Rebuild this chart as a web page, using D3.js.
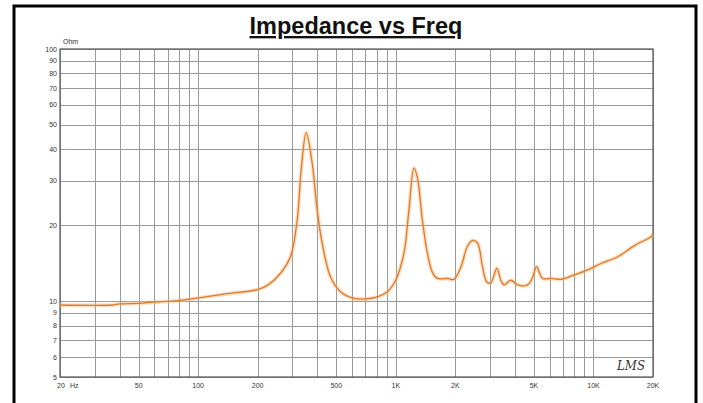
<!DOCTYPE html>
<html><head><meta charset="utf-8">
<script src="https://cdn.jsdelivr.net/npm/d3@7"></script>
<style>html,body{margin:0;padding:0;background:#fff;}svg{display:block;}</style>
</head><body>
<script>
const freqs = [20,36.7,40,50,59.2,80,101,140.7,199,226,261,293,317,332,352,377,400,424,467,525,613,703,806,906,998,1099,1165,1235,1285,1362,1444,1531,1623,1824,1970,2130,2303,2442,2589,2745,2885,3023,3243,3397,3530,3819,4129,4641,4920,5153,5527,6089,6844,7992,9343,10914,13260,16090,19560,20000];
const ohms  = [9.65,9.65,9.75,9.8,9.9,10.05,10.3,10.7,11.1,11.6,12.9,15.0,21,33.1,46.6,35.5,23,17,12.5,10.9,10.26,10.2,10.4,10.9,12.1,15.5,23,33.7,31,21,15.5,13,12.3,12.3,12.2,13.6,16.5,17.4,17,13.7,11.9,11.8,13.5,12.1,11.6,12.1,11.6,11.6,12.4,13.7,12.3,12.3,12.2,12.7,13.3,14.1,15.0,16.6,18.0,18.4];
const yTicks = [5,6,7,8,9,10,20,30,40,50,60,70,80,90,100];
const yLabels = ["5","6","7","8","9","10","20","30","40","50","60","70","80","90","100"];
const xGrid = [20,30,40,50,60,70,80,90,100,200,300,400,500,600,700,800,900,1000,2000,3000,4000,5000,6000,7000,8000,9000,10000,20000];
const xLabelVals = [50,100,200,500,1000,2000,5000,10000,20000];
const xLabels = ["50","100","200","500","1K","2K","5K","10K","20K"];
const title = "Impedance vs Freq";

const W=703,H=403;
const L=60,R=653,T=49,B=377;
const svg=d3.select("body").append("svg").attr("width",W).attr("height",H);
svg.append("rect").attr("width",W).attr("height",H).attr("fill","#fff");

const x=d3.scaleLog().domain([20,20000]).range([L,R]);
const y=d3.scaleLog().domain([5,100]).range([B,T]);

// outer frame
svg.append("path").attr("d",`M14,${H+5} L14,6 L696,6 L696,${H+5}`).attr("fill","none").attr("stroke","#000").attr("stroke-width",3);

// title
svg.append("text").attr("x",356).attr("y",34).attr("text-anchor","middle")
  .attr("font-family","Liberation Sans, Arial, sans-serif").attr("font-weight","bold").attr("font-size",23.5)
  .attr("text-decoration","underline").attr("fill","#111").text(title);

// grid
const g=svg.append("g");
g.selectAll(".yg").data(yTicks).join("line").attr("x1",L).attr("x2",R)
  .attr("y1",d=>Math.round(y(d))+0.5).attr("y2",d=>Math.round(y(d))+0.5).attr("stroke","#9a9a9a").attr("stroke-width",1);
g.selectAll(".xg").data(xGrid).join("line").attr("y1",T).attr("y2",B)
  .attr("x1",d=>Math.round(x(d))+0.5).attr("x2",d=>Math.round(x(d))+0.5).attr("stroke","#9a9a9a").attr("stroke-width",1);
svg.append("rect").attr("x",L).attr("y",T).attr("width",R-L).attr("height",B-T).attr("fill","none").attr("stroke","#555").attr("stroke-width",1.2);

const font="Liberation Sans, Arial, sans-serif";
// y labels
svg.selectAll(".yl").data(yTicks).join("text").attr("x",57).attr("y",d=>y(d)+2.5)
  .attr("text-anchor","end").attr("font-family",font).attr("font-size",7).attr("fill","#333")
  .text((d,i)=>yLabels[i]);
svg.append("text").attr("x",63).attr("y",44).attr("font-family",font).attr("font-size",7).attr("fill","#333").text("Ohm");
// x labels
svg.append("text").attr("x",57).attr("y",388).attr("font-family",font).attr("font-size",7).attr("fill","#333").text("20");
svg.append("text").attr("x",70).attr("y",388).attr("font-family",font).attr("font-size",7).attr("fill","#333").text("Hz");
svg.selectAll(".xl").data(xLabelVals).join("text").attr("x",d=>x(d)).attr("y",388)
  .attr("text-anchor","middle").attr("font-family",font).attr("font-size",7).attr("fill","#333")
  .text((d,i)=>xLabels[i]);

// curve
const line=d3.line().x((d,i)=>x(freqs[i])).y(d=>y(d)).curve(d3.curveCatmullRom.alpha(0.5));
svg.append("path").attr("d",line(ohms)).attr("fill","none").attr("stroke","#f7b77a").attr("stroke-opacity",0.45).attr("stroke-width",4);
svg.append("path").attr("d",line(ohms)).attr("fill","none").attr("stroke","#de7a2c").attr("stroke-width",1.3);

// logo
svg.append("text").attr("x",617).attr("y",370).attr("font-family","DejaVu Serif, serif").attr("font-style","italic")
  .attr("font-size",13).attr("fill","#333").attr("textLength",28).attr("lengthAdjust","spacingAndGlyphs").text("LMS");
</script>
</body></html>
